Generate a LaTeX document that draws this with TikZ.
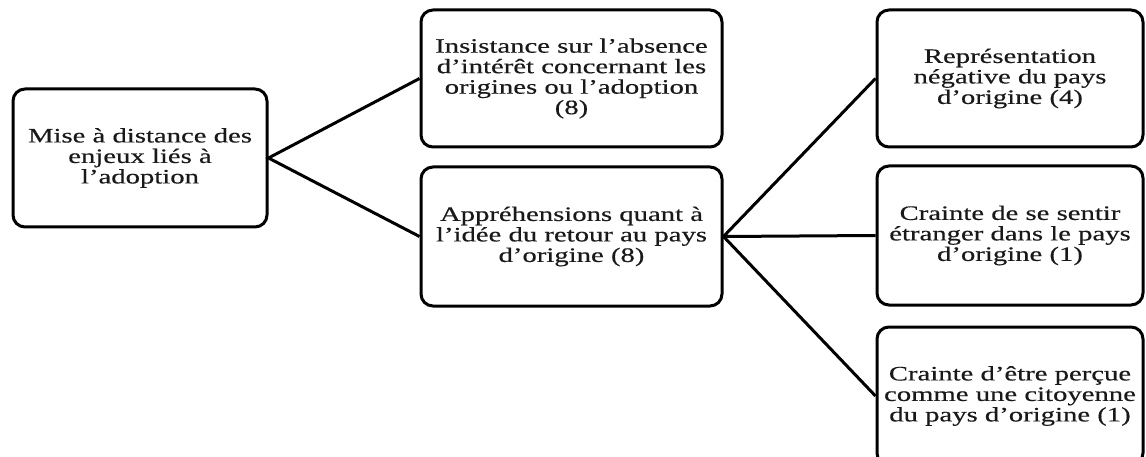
\documentclass[tikz,border=0pt]{standalone}
\usepackage{fontspec}
\setmainfont{Liberation Serif}[FakeStretch=1.40,FakeBold=0.4]
\begin{document}
\begin{tikzpicture}[x=1pt,y=-1pt,
  box/.style={draw=black,line width=3pt,rounded corners=12pt,inner sep=0pt,
    align=center,text=black!90,font=\fontsize{20.5}{20.5}\selectfont},
  link/.style={draw=black,line width=3pt}]
\clip (0,0) rectangle (1146,457);
\useasboundingbox (0,0) rectangle (1146,457);
\node[box,minimum width=254pt,minimum height=138pt] (L) at (140,158)
  {Mise à distance des\\enjeux liés à\\l’adoption};
\node[box,minimum width=301pt,minimum height=137pt] (A) at (571.5,78.5)
  {Insistance sur l’absence\\d’intérêt concernant les\\origines ou l’adoption\\(8)};
\node[box,minimum width=301pt,minimum height=139pt] (B) at (571.5,236.5)
  {Appréhensions quant à\\l’idée du retour au pays\\d’origine (8)};
\node[box,minimum width=266pt,minimum height=137pt] (C) at (1010,78.5)
  {Représentation\\négative du pays\\d’origine (4)};
\node[box,minimum width=266pt,minimum height=139pt] (D) at (1010,235.5)
  {Crainte de se sentir\\étranger dans le pays\\d’origine (1)};
\node[box,minimum width=266pt,minimum height=138pt] (E) at (1010,396)
  {Crainte d’être perçue\\comme une citoyenne\\du pays d’origine (1)};
\draw[link] (A.west) -- (L.east) -- (B.west);
\draw[link] (B.east) -- (C.west);
\draw[link] (B.east) -- (D.west);
\draw[link] (B.east) -- (E.west);
\end{tikzpicture}
\end{document}
